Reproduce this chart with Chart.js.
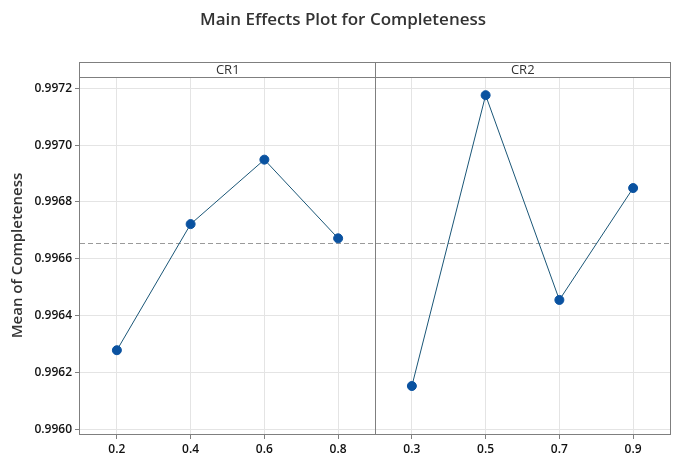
<!DOCTYPE html>
<html>
<head>
<meta charset="utf-8">
<script src="https://cdn.jsdelivr.net/npm/chart.js@4.4.1/dist/chart.umd.min.js"></script>
<style>
  html, body { margin: 0; padding: 0; background: #fff; }
  #wrap { width: 681px; height: 461px; }
</style>
</head>
<body>
<div id="wrap"><canvas id="mycanvas" width="681" height="461"></canvas></div>
<script>
// data
var cr1Levels = ['0.2', '0.4', '0.6', '0.8'];
var cr1Means  = [0.996278, 0.996722, 0.996949, 0.996672];
var cr2Levels = ['0.3', '0.5', '0.7', '0.9'];
var cr2Means  = [0.996152, 0.997176, 0.996455, 0.996849];
var grandMean = 0.996656;
var yTicks    = [0.9960, 0.9962, 0.9964, 0.9966, 0.9968, 0.9970, 0.9972];
var panelNames = ['CR1', 'CR2'];

var labels = cr1Levels.concat(cr2Levels);
var gap = [null, null, null, null];
var cr1Data = cr1Means.concat(gap);
var cr2Data = gap.concat(cr2Means);

var FONT = "'Open Sans', 'DejaVu Sans', sans-serif";
var frameColor = '#7f7f7f';

// panels header strip, divider, frame, mean line, title
var panels = {
	id: 'panels',
	beforeDatasetsDraw: function(chart) {
		var ctx = chart.ctx, a = chart.chartArea;
		var y = chart.scales.y.getPixelForValue(grandMean);
		ctx.save();
		ctx.strokeStyle = '#9a9a9a';
		ctx.lineWidth = 1;
		ctx.setLineDash([5, 3]);
		ctx.beginPath();
		ctx.moveTo(a.left, Math.round(y) + 0.5);
		ctx.lineTo(a.right, Math.round(y) + 0.5);
		ctx.stroke();
		ctx.restore();
	},
	afterDraw: function(chart) {
		var ctx = chart.ctx, a = chart.chartArea, x = chart.scales.x;
		var stripTop = a.top - 15;
		var mid = Math.round((x.getPixelForTick(3) + x.getPixelForTick(4)) / 2) + 0.5;
		ctx.save();
		ctx.strokeStyle = frameColor;
		ctx.lineWidth = 1;
		ctx.strokeRect(Math.round(a.left) - 0.5, stripTop + 0.5, Math.round(a.right - a.left) + 1, Math.round(a.bottom - stripTop));
		ctx.beginPath();
		ctx.moveTo(a.left, a.top + 0.5);
		ctx.lineTo(a.right, a.top + 0.5);
		ctx.moveTo(mid, stripTop);
		ctx.lineTo(mid, a.bottom);
		ctx.stroke();

		ctx.fillStyle = '#333333';
		ctx.font = '13px ' + FONT;
		ctx.textAlign = 'center';
		ctx.textBaseline = 'middle';
		ctx.fillText(panelNames[0], (a.left + mid) / 2, stripTop + 8);
		ctx.fillText(panelNames[1], (mid + a.right) / 2, stripTop + 8);

		ctx.font = '600 17px ' + FONT;
		ctx.fillText('Main Effects Plot for Completeness', 343, 20);
		ctx.restore();
	}
};

var chartdata = {
	labels: labels,
	datasets: [
		{
			label: 'CR1',
			data: cr1Data,
			borderColor: '#1a5677',
			borderWidth: 1,
			backgroundColor: '#0a52a0',
			pointBackgroundColor: '#0a52a0',
			pointBorderColor: '#0a52a0',
			pointRadius: 4.5,
			spanGaps: false,
			tension: 0
		},{
			label: 'CR2',
			data: cr2Data,
			borderColor: '#1a5677',
			borderWidth: 1,
			backgroundColor: '#0a52a0',
			pointBackgroundColor: '#0a52a0',
			pointBorderColor: '#0a52a0',
			pointRadius: 4.5,
			spanGaps: false,
			tension: 0
		}
	]
};

var ctx = document.getElementById('mycanvas');
var mycanvas = new Chart(ctx, {
	type: 'line',
	data: chartdata,
	plugins: [panels],
	options: {
		responsive: false,
		animation: false,
		events: [],
		layout: { padding: { top: 77, right: 11, left: 0, bottom: 0 } },
		plugins: {
			legend: { display: false },
			title: { display: false },
			tooltip: { enabled: false }
		},
		scales: {
			x: {
				type: 'category',
				offset: true,
				grid: { color: '#e4e4e4', tickColor: frameColor, tickLength: 5, offset: false },
				border: { display: false },
				ticks: { color: '#111111', font: { family: FONT, size: 12, weight: '600' }, padding: 3, maxRotation: 0, autoSkip: false },
				afterFit: function(s) { s.height = 27; }
			},
			y: {
				min: 0.995983,
				max: 0.99724,
				afterBuildTicks: function(s) {
					s.ticks = yTicks.map(function(v) { return { value: v }; });
				},
				grid: { color: '#e4e4e4', tickColor: frameColor, tickLength: 5 },
				border: { display: false },
				ticks: {
					color: '#111111',
					font: { family: FONT, size: 12, weight: '600' },
					padding: 3,
					callback: function(v) { return Number(v).toFixed(4); }
				},
				title: {
					display: true,
					text: 'Mean of Completeness',
					color: '#333333',
					font: { family: FONT, size: 15, weight: '600' },
					padding: { top: 9, bottom: 0 }
				},
				afterFit: function(s) { s.width = 80; }
			}
		}
	}
});
</script>
</body>
</html>
